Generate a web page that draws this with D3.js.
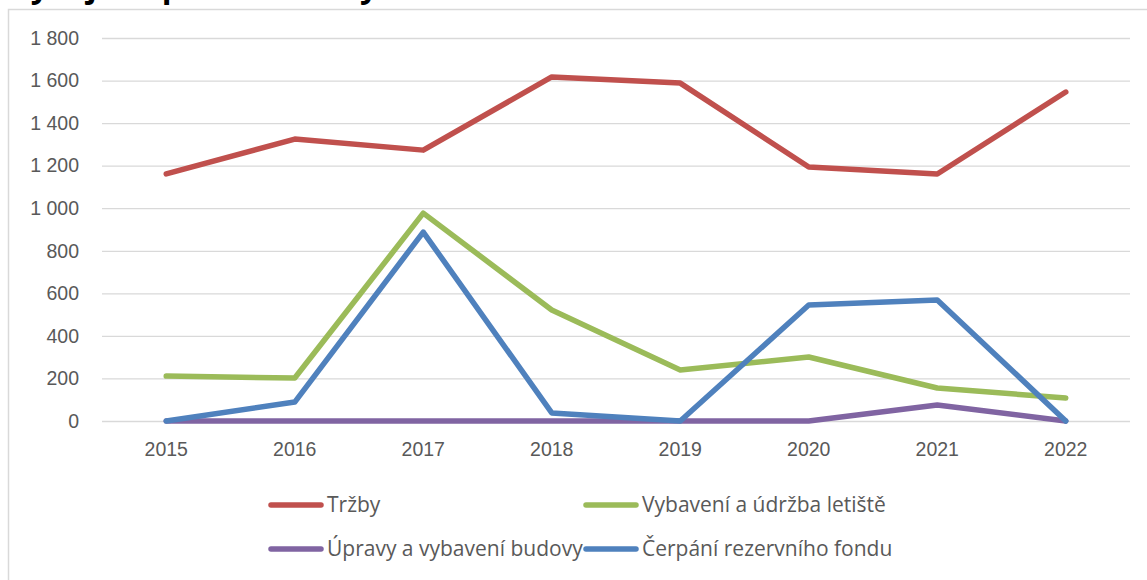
<!DOCTYPE html>
<html>
<head>
<meta charset="utf-8">
<script src="https://cdn.jsdelivr.net/npm/d3@7"></script>
<style>
  body { margin: 0; background: #fff; }
  svg { display: block; font-family: "Open Sans", "Noto Sans", sans-serif; }
</style>
</head>
<body>
<div id="chart"></div>
<script>
// data
const years = ["2015", "2016", "2017", "2018", "2019", "2020", "2021", "2022"];
const trzby = [1161, 1325, 1273, 1617, 1588, 1194, 1161, 1546];
const vybaveni = [211, 202, 977, 522, 240, 301, 155, 108];
const upravy = [0, 0, 0, 0, 0, 0, 75, 0];
const cerpani = [0, 89, 888, 38, 0, 545, 569, 0];
const yTicks = [0, 200, 400, 600, 800, 1000, 1200, 1400, 1600, 1800];
const seriesNames = ["Tržby", "Vybavení a údržba letiště", "Úpravy a vybavení budovy", "Čerpání rezervního fondu"];
const seriesColors = ["#C0504D", "#9BBB59", "#8064A2", "#4F81BD"];

const W = 1147, H = 580;
const margin = {top: 38, right: 17, bottom: 159, left: 102};
const width = W - margin.left - margin.right,
      height = H - margin.top - margin.bottom;

const svg = d3.select("#chart").append("svg")
  .attr("width", W)
  .attr("height", H);

// chart frame (only top and left edges are in view)
svg.append("path")
  .attr("d", "M8.5," + H + "V9.5H" + W)
  .attr("fill", "none")
  .attr("stroke", "#d9d9d9")
  .attr("stroke-width", 1.5);

// title, mostly cut off above the picture
svg.append("text")
  .attr("x", 10)
  .attr("y", -3)
  .attr("font-size", 32)
  .attr("font-weight", "bold")
  .attr("fill", "#000")
  .text("Vývoj hospodaření a výše");

const g = svg.append("g")
  .attr("transform", "translate(" + margin.left + "," + margin.top + ")");

const x = d3.scaleBand().domain(years).range([0, width]);
const y = d3.scaleLinear().domain([0, 1800]).range([height, 0]);

const fmt = v => d3.format(",")(v).replace(/,/g, " ");

// gridlines + y labels
g.append("g")
  .call(d3.axisLeft(y).tickValues(yTicks).tickSize(-width).tickFormat(fmt).tickPadding(23))
  .call(a => a.select(".domain").remove())
  .call(a => a.selectAll(".tick line").attr("stroke", "#d9d9d9").attr("stroke-width", 1.3))
  .call(a => a.selectAll(".tick text").attr("fill", "#595959").attr("font-size", 19.5));

// x labels
g.append("g")
  .attr("transform", "translate(0," + height + ")")
  .call(d3.axisBottom(x).tickSize(0).tickPadding(21))
  .call(a => a.select(".domain").remove())
  .call(a => a.selectAll(".tick text").attr("fill", "#595959").attr("font-size", 19.5));

const allSeries = [trzby, vybaveni, upravy, cerpani];
const line = d3.line()
  .x((d, i) => x(years[i]) + x.bandwidth() / 2)
  .y(d => y(d));

allSeries.forEach((s, k) => {
  g.append("path")
    .datum(s)
    .attr("fill", "none")
    .attr("stroke", seriesColors[k])
    .attr("stroke-width", 5.5)
    .attr("stroke-linejoin", "round")
    .attr("stroke-linecap", "round")
    .attr("d", line);
});

// legend, 2 x 2
const legendX = [271, 586], legendY = [505, 549];
seriesNames.forEach((name, k) => {
  const lx = legendX[k % 2], ly = legendY[Math.floor(k / 2)];
  const item = svg.append("g").attr("transform", "translate(" + lx + "," + ly + ")");
  item.append("line")
    .attr("x1", 0).attr("x2", 50)
    .attr("stroke", seriesColors[k])
    .attr("stroke-width", 5.5)
    .attr("stroke-linecap", "round");
  item.append("text")
    .attr("x", 56)
    .attr("dy", "0.35em")
    .attr("fill", "#595959")
    .attr("font-size", 21)
    .text(name);
});
</script>
</body>
</html>
